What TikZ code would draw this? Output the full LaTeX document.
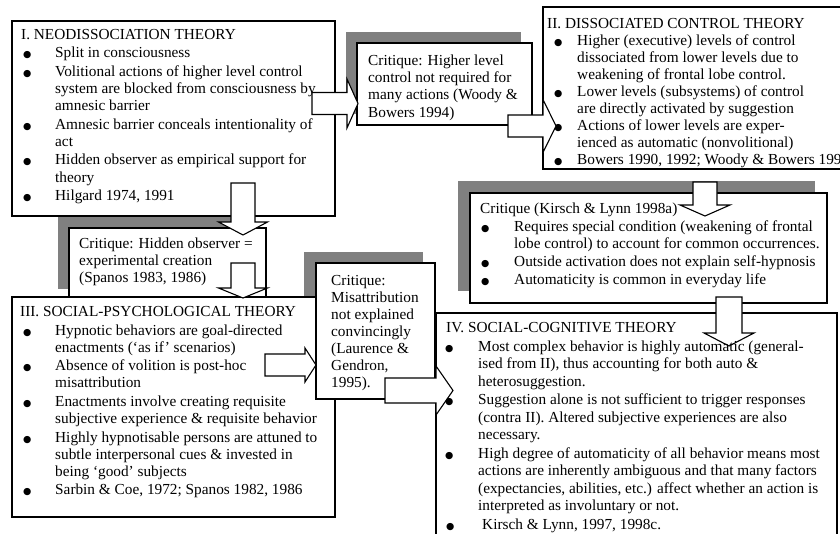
\documentclass[tikz,border=0pt]{standalone}
\usepackage{fontspec}
\setmainfont{Liberation Serif}
\newfontfamily\symf{DejaVu Sans}
\definecolor{shadowc}{RGB}{128,128,128}
\def\bofs{0pt}\def\tind{30pt}\def\pgp{0pt}
\newcommand{\bul}{{\symf\fontsize{9.5}{9.5}\selectfont ●}}
\newcommand{\TL}[1]{\hbox{#1}}
\newcommand{\BL}[1]{\vskip\pgp\hbox{\hbox to \tind{\hskip\bofs\bul\hss}#1}}
\newcommand{\CL}[1]{\hbox{\hskip\tind #1}}
\newcommand{\blockright}[6]{\draw[blockarrow] (#1,{#4-#5}) -- (#2,{#4-#5}) -- (#2,{#4-#6}) -- (#3,#4) -- (#2,{#4+#6}) -- (#2,{#4+#5}) -- (#1,{#4+#5}) -- cycle;}
\newcommand{\blockdown}[6]{\draw[blockarrow] ({#4-#5},#1) -- ({#4-#5},#2) -- ({#4-#6},#2) -- (#4,#3) -- ({#4+#6},#2) -- ({#4+#5},#2) -- ({#4+#5},#1) -- cycle;}
\begin{document}
\begin{tikzpicture}[x=1pt,y=-1pt,
  box/.style={draw, line width=1.1pt, fill=white, inner sep=0pt, outer sep=0pt, anchor=north west},
  txt/.style={inner sep=0pt, anchor=base west, font=\fontsize{15.3}{17.2}\selectfont},
  blockarrow/.style={draw, line width=1.1pt, fill=white, line join=miter}]
\fill[white] (0,0) rectangle (840,533);
\useasboundingbox (0,0) rectangle (840,533);
\clip (0,0) rectangle (840,533);

% I. Neodissociation
\node[box, minimum width=323pt, minimum height=195pt] (neo) at (12,21) {};
\node[txt] (neotext) at (21,39.3) {\vtop{\def\bofs{2pt}\def\tind{34pt}\def\pgp{1.3pt}%
\TL{I. NEODISSOCIATION THEORY}
\BL{Split in consciousness}
\BL{Volitional actions of higher level control}
\CL{system are blocked from consciousness by}
\CL{amnesic barrier}
\BL{Amnesic barrier conceals intentionality of}
\CL{act}
\BL{Hidden observer as empirical support for}
\CL{theory}
\BL{Hilgard 1974, 1991}}};

% Critique 1
\fill[shadowc] (346,32) rectangle (521,114);
\node[box, minimum width=175pt, minimum height=82pt] (crita) at (357,43) {};
\node[txt, font=\fontsize{15.3}{17.1}\selectfont] (critatext) at (368,65.7) {\vtop{%
\TL{Critique: Higher level}
\TL{control not required for}
\TL{many actions (Woody \&}
\TL{Bowers 1994)}}};

% II. Dissociated control
\node[box, minimum width=327pt, minimum height=162pt] (dct) at (543,7) {};
\node[txt, font=\fontsize{15.3}{17.0}\selectfont] (dcttext) at (547,28) {\vtop{\def\bofs{7pt}\def\tind{30pt}\def\pgp{0pt}%
\TL{II. DISSOCIATED CONTROL THEORY}
\BL{Higher (executive) levels of control}
\CL{dissociated from lower levels due to}
\CL{weakening of frontal lobe control.}
\BL{Lower levels (subsystems) of control}
\CL{are directly activated by suggestion}
\BL{Actions of lower levels are exper-}
\CL{ienced as automatic (nonvolitional)}
\BL{Bowers 1990, 1992; Woody \& Bowers 1994}}};

\blockright{312}{347}{358}{103.5}{11}{24.5}
\blockright{508}{543}{556}{126}{11}{26.5}

% Critique 2
\fill[shadowc] (58,217) rectangle (255,289);
\node[box, minimum width=197pt, minimum height=72pt] (critb) at (69,228) {};
\node[txt, font=\fontsize{15.3}{17.0}\selectfont] (critbtext) at (79,248) {\vtop{%
\TL{Critique: Hidden observer =}
\TL{experimental creation}
\TL{(Spanos 1983, 1986)}}};

% Critique 3 shadow
\fill[shadowc] (304,252) rectangle (423,388);

% III. Social-psychological
\node[box, minimum width=323pt, minimum height=220pt] (sp) at (12,297) {};
\node[txt, font=\fontsize{15.3}{17.1}\selectfont] (sptext) at (20,316.7) {\vtop{\def\bofs{3pt}\def\tind{35pt}\def\pgp{1.4pt}%
\TL{III. SOCIAL-PSYCHOLOGICAL THEORY}
\BL{Hypnotic behaviors are goal-directed}
\CL{enactments (‘as if’ scenarios)}
\BL{Absence of volition is post-hoc}
\CL{misattribution}
\BL{Enactments involve creating requisite}
\CL{subjective experience \& requisite behavior}
\BL{Highly hypnotisable persons are attuned to}
\CL{subtle interpersonal cues \& invested in}
\CL{being ‘good’ subjects}
\BL{Sarbin \& Coe, 1972; Spanos 1982, 1986}}};

% Critique 3
\node[box, minimum width=119pt, minimum height=136pt] (critc) at (316,263) {};
\node[txt, font=\fontsize{15.3}{17.0}\selectfont] (critctext) at (331,285) {\vtop{%
\TL{Critique:}
\TL{Misattribution}
\TL{not explained}
\TL{convincingly}
\TL{(Laurence \&}
\TL{Gendron,}
\TL{1995).}}};

\blockdown{183}{222}{235}{243}{12}{24.5}
\blockdown{263}{288}{298}{243}{12}{24.5}
\blockright{265}{305}{316}{365}{11}{17}

% Critique 4
\fill[shadowc] (458,181) rectangle (815,291);
\node[box, minimum width=357pt, minimum height=110pt] (critd) at (470,193) {};
\node[txt, font=\fontsize{15.3}{17.2}\selectfont] (critdtext) at (480,213) {\vtop{\def\bofs{1pt}\def\tind{34pt}\def\pgp{0.8pt}%
\TL{Critique (Kirsch \& Lynn 1998a)}
\BL{Requires special condition (weakening of frontal}
\CL{lobe control) to account for common occurrences.}
\BL{Outside activation does not explain self-hypnosis}
\BL{Automaticity is common in everyday life}}};
\blockdown{182}{205}{216}{705}{12}{25}

% IV. Social-cognitive
\node[box, minimum width=401pt, minimum height=260pt] (sc) at (436,313) {};
\blockdown{297}{333}{346}{729}{13}{25}
\blockright{385}{436}{453}{390.5}{12.5}{24.5}
\node[txt, font=\fontsize{15.3}{17.4}\selectfont] (sctext) at (446,332.7) {\vtop{\def\bofs{-1pt}\def\tind{32pt}\def\pgp{1.25pt}%
\TL{IV. SOCIAL-COGNITIVE THEORY}
\BL{Most complex behavior is highly automatic (general-}
\CL{ised from II), thus accounting for both auto \&}
\CL{heterosuggestion.}
\BL{Suggestion alone is not sufficient to trigger responses}
\CL{(contra II). Altered subjective experiences are also}
\CL{necessary.}
\BL{High degree of automaticity of all behavior means most}
\CL{actions are inherently ambiguous and that many factors}
\CL{(expectancies, abilities, etc.) affect whether an action is}
\CL{interpreted as involuntary or not.}
\def\tind{36pt}\def\bofs{0pt}%
\BL{Kirsch \& Lynn, 1997, 1998c.}}};
\end{tikzpicture}
\end{document}
